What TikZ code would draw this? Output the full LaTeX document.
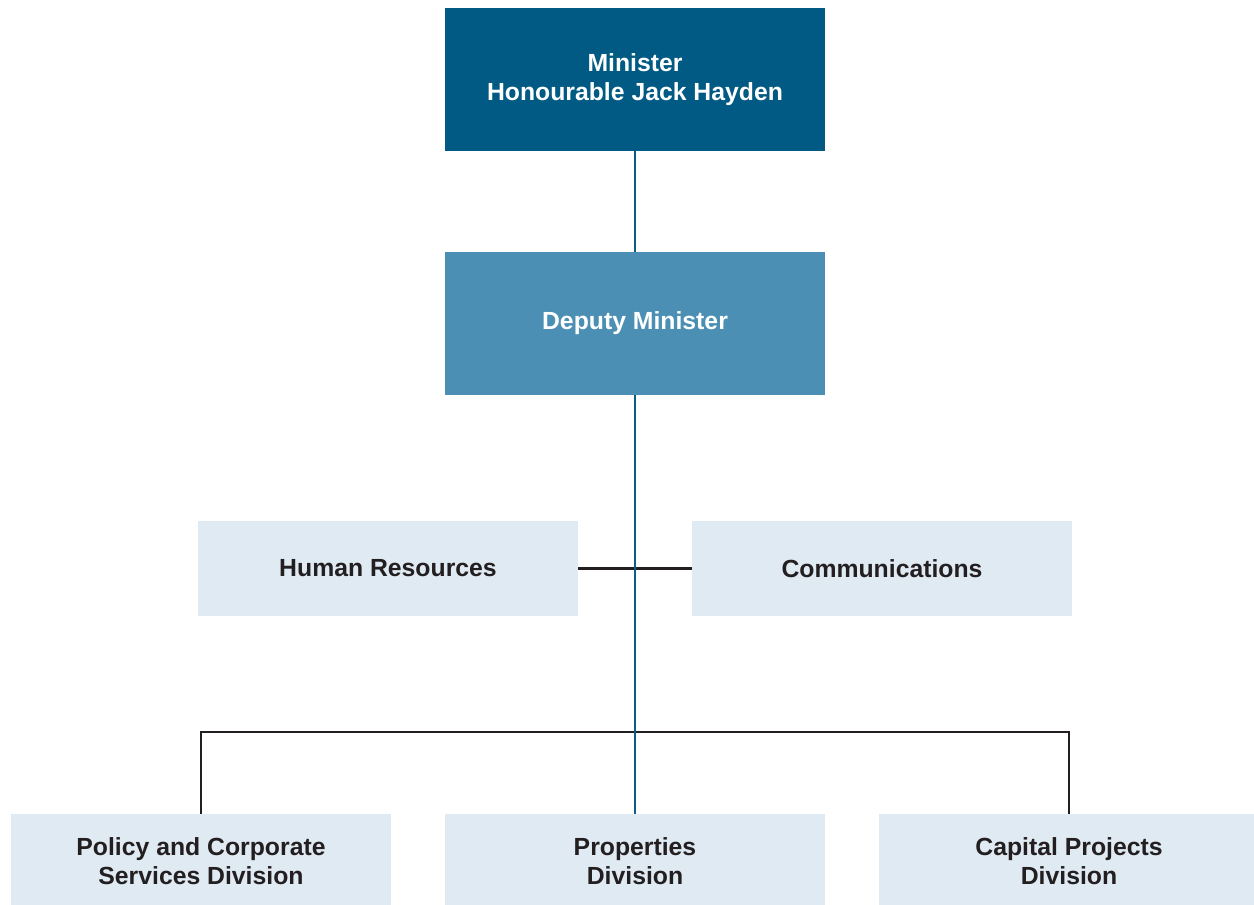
\documentclass[tikz,border=0pt]{standalone}
\usepackage{fontspec}
\setmainfont{Liberation Sans}
\usepackage{xcolor}
\usetikzlibrary{positioning}

\definecolor{ministerblue}{HTML}{015A84}
\definecolor{deputyblue}{HTML}{4B90B4}
\definecolor{unitgrey}{HTML}{E0EAF3}
\definecolor{linkblue}{HTML}{0B5D88}
\definecolor{textdark}{HTML}{231F20}

\tikzset{
  box/.style={rectangle, minimum width=7.6cm, align=center, inner sep=0pt,
              font=\fontsize{14.1}{16.5}\selectfont\bfseries},
  topbox/.style={box, fill=ministerblue, text=white, minimum height=2.86cm},
  deputybox/.style={box, fill=deputyblue, text=white, minimum height=2.86cm},
  unitbox/.style={box, fill=unitgrey, text=textdark, minimum height=1.9cm},
  blackline/.style={draw=textdark, line width=1.3pt},
  blueline/.style={draw=linkblue, line width=1.4pt}
}

\begin{document}
\begin{tikzpicture}[x=0.02cm, y=-0.02cm]
    \clip (0,0) rectangle (1254,905);
    \fill[white] (0,0) rectangle (1254,905);

    % top of the chart
    \node[topbox] (minister) at (635,79.5) {Minister\\Honourable Jack Hayden};
    \node[deputybox] (deputy) at (635,323.5) {Deputy Minister};

    % support units
    \node[unitbox] (hr) at (388,568.5) {Human Resources};
    \node[unitbox] (comms) at (882,568.5) {Communications};

    % divisions
    \node[unitbox] (policy) at (201,861.5) {Policy and Corporate\\Services Division};
    \node[unitbox] (properties) at (635,861.5) {Properties\\Division};
    \node[unitbox] (capital) at (1069,861.5) {Capital Projects\\Division};

    \coordinate (branch) at (635,732);

    % black connectors
    \draw[blackline] (hr.east) -- (comms.west);
    \draw[blackline] (policy.north) |- (branch) -| (capital.north);

    % reporting line
    \draw[blueline] (minister.south) -- (deputy.north);
    \draw[blueline] (deputy.south) -- (properties.north);
\end{tikzpicture}
\end{document}
